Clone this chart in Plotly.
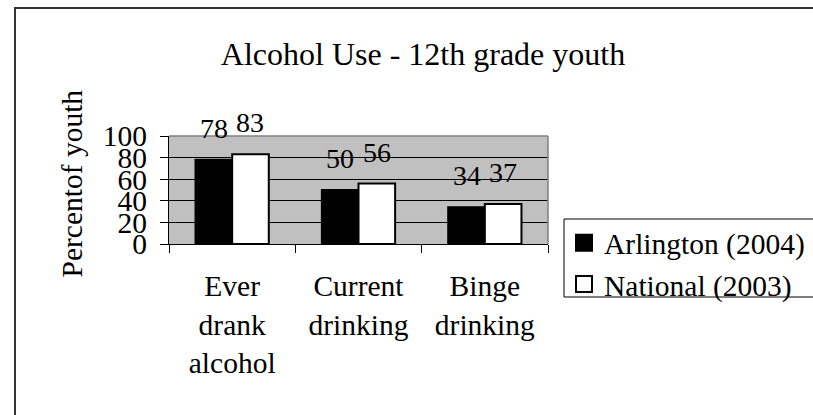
import plotly.graph_objects as go

# Survey results: percent of 12th grade youth
categories = ["Ever<br>drank<br>alcohol", "Current<br>drinking", "Binge<br>drinking"]
arlington_2004 = [78, 50, 34]
national_2003 = [83, 56, 37]
series_names = ["Arlington (2004)", "National (2003)"]
series_fill = ["black", "white"]
y_ticks = [0, 20, 40, 60, 80, 100]

W, H = 813, 415
ML, MR, MT, MB = 169, 265, 136, 171
PW, PH = W - ML - MR, H - MT - MB
BARGAP = 0.42
FONT = "Liberation Serif, Times New Roman, serif"


def px_x(px):
    return (px - ML) / PW


def px_y(py):
    return (H - MB - py) / PH


fig = go.Figure()
for name, vals, fill in zip(series_names, (arlington_2004, national_2003), series_fill):
    fig.add_trace(go.Bar(
        x=categories, y=vals, name=name, legendgroup=name, showlegend=False,
        marker=dict(color=fill, line=dict(color="black", width=2)),
    ))
    # legend key: square swatch for the series
    fig.add_trace(go.Scatter(
        x=[None], y=[None], mode="markers", name=name, legendgroup=name,
        marker=dict(symbol="square", size=16, color=fill,
                    line=dict(color="black", width=2)),
    ))

# value labels above each bar
cat_px = PW / len(categories)
bar_px = cat_px * (1 - BARGAP) / 2
annotations = []
for vals, shift in ((arlington_2004, -bar_px / 2), (national_2003, bar_px / 2)):
    for c, v in zip(categories, vals):
        annotations.append(dict(
            x=c, y=v, xref="x", yref="y", text=str(v), showarrow=False,
            xshift=shift, yshift=31.5, yanchor="middle",
            font=dict(family=FONT, size=28, color="black"),
        ))

# rotated axis title
annotations.append(dict(
    x=px_x(71), y=px_y(183.5), xref="paper", yref="paper",
    text="Percentof youth", textangle=-90, showarrow=False,
    xanchor="center", yanchor="middle",
    font=dict(family=FONT, size=29.5, color="black"),
))

shapes = [
    # outer chart frame (runs off the right and bottom edges)
    dict(type="rect", xref="paper", yref="paper",
         x0=px_x(15), y0=px_y(430), x1=px_x(830), y1=px_y(8),
         line=dict(color="#333333", width=2), fillcolor="rgba(0,0,0,0)",
         layer="below"),
    # legend frame (runs off the right edge)
    dict(type="rect", xref="paper", yref="paper",
         x0=px_x(564), y0=px_y(297), x1=px_x(830), y1=px_y(219),
         line=dict(color="black", width=1), fillcolor="rgba(0,0,0,0)"),
    # grey plot-area border on top and right
    dict(type="line", xref="paper", yref="paper", x0=0, x1=1, y0=1, y1=1,
         line=dict(color="#808080", width=1.5)),
    dict(type="line", xref="paper", yref="paper", x0=1, x1=1, y0=0, y1=1,
         line=dict(color="#808080", width=1.5)),
]

fig.update_layout(
    width=W, height=H,
    margin=dict(l=ML, r=MR, t=MT, b=MB, autoexpand=False),
    paper_bgcolor="white", plot_bgcolor="#C0C0C0",
    barmode="group", bargap=BARGAP, bargroupgap=0,
    font=dict(family=FONT, color="black"),
    title=dict(text="Alcohol Use - 12th grade youth",
               x=423 / W, xref="container", xanchor="center",
               y=1 - 54 / H, yref="container", yanchor="middle",
               font=dict(family=FONT, size=32, color="black")),
    showlegend=True,
    legend=dict(x=px_x(564), y=px_y(217), xanchor="left", yanchor="top",
                xref="paper", yref="paper", itemsizing="trace",
                tracegroupgap=0,
                bgcolor="rgba(0,0,0,0)", borderwidth=0,
                font=dict(family=FONT, size=29.5, color="black")),
    annotations=annotations,
    shapes=shapes,
)
fig.update_xaxes(
    type="category", showline=True, linecolor="black", linewidth=1,
    ticks="outside", tickson="boundaries", ticklen=8, tickcolor="black",
    showgrid=False, ticklabelstandoff=16,
    tickfont=dict(family=FONT, size=29.5, color="black"),
)
fig.update_yaxes(
    range=[0, 100], tickvals=y_ticks, showline=True, linecolor="black",
    linewidth=1, ticks="outside", ticklen=8, tickcolor="black",
    showgrid=True, gridcolor="black", gridwidth=1, zeroline=False,
    ticklabelstandoff=7,
    tickfont=dict(family=FONT, size=29.5, color="black"),
)

fig.write_html("out.html")
